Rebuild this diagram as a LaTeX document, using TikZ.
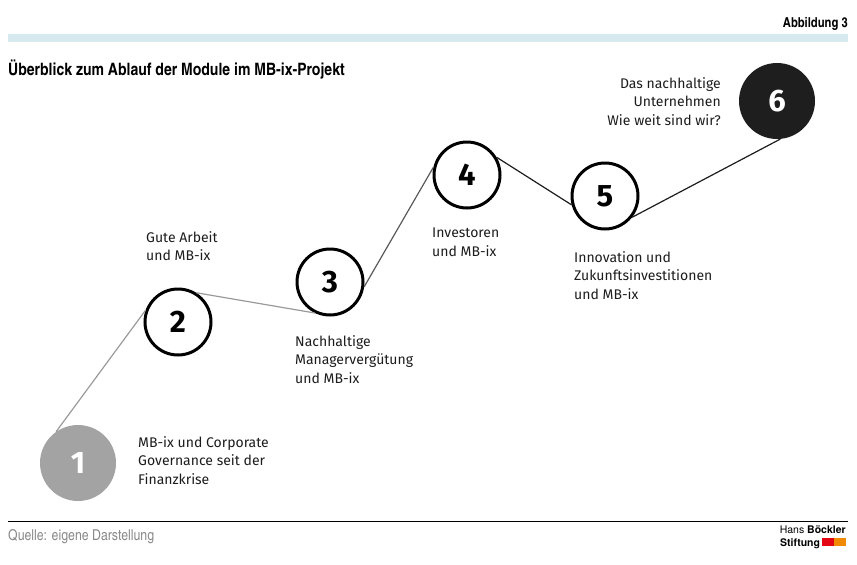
\documentclass[tikz,border=0pt]{standalone}
\usepackage{fontspec}
\usepackage{xcolor}
\usepackage{tikz}
\setmainfont{Fira Sans}
\newfontfamily\condfont{texgyreheroscn}[Extension=.otf,UprightFont=*-regular,BoldFont=*-bold]
\newfontfamily\logofont{TeX Gyre Heros}
\definecolor{bandblue}{HTML}{D6E9EE}
\definecolor{textdark}{HTML}{1C1C1C}
\definecolor{stepgray}{HTML}{A3A3A3}
\definecolor{stepblack}{HTML}{1E1E1E}
\definecolor{linegray}{HTML}{9A9A9A}
\definecolor{sourcegray}{HTML}{8A8A8A}
\definecolor{logored}{HTML}{E30613}
\definecolor{logoorange}{HTML}{F08A00}

\begin{document}
\begin{tikzpicture}[x=1pt, y=-1pt,
  stepcircle/.style={circle, draw=black, line width=3pt, fill=white, minimum size=66pt,
    inner sep=0pt, text=black, font=\fontsize{31}{31}\selectfont\bfseries},
  stepfull/.style={circle, minimum size=76pt, inner sep=0pt, text=white,
    font=\fontsize{31}{31}\selectfont\bfseries},
  steptext/.style={align=left, inner sep=0pt, text=textdark, font=\fontsize{14}{18.5}\selectfont},
  pathline/.style={line width=1.2pt}]
  \useasboundingbox (0, 0) rectangle (857, 565);

  % header
  \node[anchor=base east, inner sep=0pt, font=\condfont\bfseries\fontsize{13.7}{13.7}\selectfont] (fig) at (848, 27) {Abbildung 3};
  \fill[bandblue] (8, 34) rectangle (848, 42);
  \node[anchor=base west, inner sep=0pt, font=\condfont\bfseries\fontsize{17.1}{17.1}\selectfont] (title) at (8, 75) {Überblick zum Ablauf der Module im MB-ix-Projekt};

  % modules
  \node[stepfull, fill=stepgray] (c1) at (78, 463) {1};
  \node[stepcircle] (c2) at (178, 322) {2};
  \node[stepcircle] (c3) at (330, 282) {3};
  \node[stepcircle] (c4) at (467, 175) {4};
  \node[stepcircle] (c5) at (605, 196) {5};
  \node[stepfull, fill=stepblack] (c6) at (777, 101) {6};

  \draw[pathline, linegray] (c1.125) -- (c2.160);
  \draw[pathline, linegray] (c2.58) -- (c3.244);
  \draw[pathline, black!65] (c3.-8) -- (c4.167);
  \draw[pathline, textdark] (c4.31) -- (c5.195);
  \draw[pathline, textdark] (c5.322) -- (c6.275);

  \node[steptext, anchor=north west] (t1) at (138, 436) {MB-ix und Corporate\\Governance seit der\\Finanzkrise};
  \node[steptext, anchor=north west] (t2) at (146, 231) {Gute Arbeit\\und MB-ix};
  \node[steptext, anchor=north west] (t3) at (295, 335) {Nachhaltige\\Managervergütung\\und MB-ix};
  \node[steptext, anchor=north west] (t4) at (432, 228) {Investoren\\und MB-ix};
  \node[steptext, anchor=north west] (t5) at (574, 251) {Innovation und\\Zukunftsinvestitionen\\und MB-ix};
  \node[steptext, align=right, anchor=north east] (t6) at (721, 77) {Das nachhaltige\\Unternehmen\\Wie weit sind wir?};

  % footer
  \draw[line width=1pt] (8, 521) -- (848, 521);
  \node[anchor=base west, inner sep=0pt, text=sourcegray, font=\condfont\fontsize{15}{15}\selectfont] (src) at (8, 540) {Quelle: eigene Darstellung};
  \node[anchor=base east, inner sep=0pt, font=\logofont\fontsize{10.5}{10.5}\selectfont] (hans) at (846, 533) {Hans \textbf{Böckler}};
  \node[anchor=base west, inner sep=0pt, font=\logofont\bfseries\fontsize{10.5}{10.5}\selectfont] (stift) at (780, 546) {Stiftung};
  \fill[logored] (822, 538) rectangle (834, 546);
  \fill[logoorange] (834, 538) rectangle (846, 546);
\end{tikzpicture}
\end{document}
